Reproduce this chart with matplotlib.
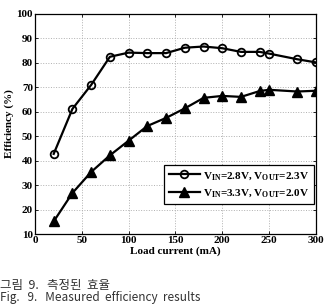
import matplotlib
matplotlib.use("Agg")
import matplotlib.pyplot as plt

load_ma = [20, 40, 60, 80, 100, 120, 140, 160, 180, 200, 220, 240, 250, 280, 300]
eff_28_23 = [42.8, 61.2, 71.0, 82.5, 84.2, 84.0, 84.0, 86.2, 86.7, 86.0, 84.5, 84.5, 83.8, 81.5, 80.2]
eff_33_20 = [15.2, 26.8, 35.4, 42.2, 48.2, 54.2, 57.5, 61.4, 65.7, 66.5, 66.1, 68.5, 69.0, 68.3, 68.6]
label_a = r'V$_{\mathrm{IN}}$=2.8V, V$_{\mathrm{OUT}}$=2.3V'
label_b = r'V$_{\mathrm{IN}}$=3.3V, V$_{\mathrm{OUT}}$=2.0V'
xticks = [0, 50, 100, 150, 200, 250, 300]
yticks = [10, 20, 30, 40, 50, 60, 70, 80, 90, 100]
caption_kr = "그림  9.   측정된  효율"
caption_en = "Fig.   9.   Measured  efficiency  results"

plt.rcParams['font.family'] = ['Liberation Serif', 'DejaVu Serif']
plt.rcParams['font.weight'] = 'bold'
plt.rcParams['mathtext.fontset'] = 'custom'
plt.rcParams['mathtext.rm'] = 'Liberation Serif:bold'
plt.rcParams['mathtext.it'] = 'Liberation Serif:bold'
plt.rcParams['mathtext.bf'] = 'Liberation Serif:bold'

fig = plt.figure(figsize=(3.27, 3.04), dpi=100)
ax = fig.add_axes([0.107, 0.230, 0.859, 0.724])

ax.plot(load_ma, eff_28_23, color='black', lw=1.6, marker='o', ms=5.5,
        mfc='none', mec='black', mew=1.3, label=label_a)
ax.plot(load_ma, eff_33_20, color='black', lw=1.6, marker='^', ms=6.5,
        mfc='black', mec='black', label=label_b)

ax.set_xlim(0, 300)
ax.set_ylim(10, 100)
ax.set_xticks(xticks)
ax.set_yticks(yticks)
ax.tick_params(direction='in', length=2.5, width=0.6, labelsize=8,
               top=True, right=True, pad=1.5)
for lab in ax.get_xticklabels() + ax.get_yticklabels():
    lab.set_fontweight('bold')
ax.grid(True, linestyle=':', color='#b0b0b0', lw=0.7)
for s in ax.spines.values():
    s.set_linewidth(0.9)

ax.set_xlabel('Load current (mA)', fontsize=8, fontweight='bold', labelpad=1)
ax.set_ylabel('Efficiency (%)', fontsize=8, fontweight='bold', labelpad=2)

leg = ax.legend(loc='lower right', bbox_to_anchor=(0.995, 0.136), fontsize=8,
                frameon=True, fancybox=False, edgecolor='black', framealpha=1,
                handlelength=2.8, handletextpad=0.3, borderpad=0.45,
                labelspacing=0.5, borderaxespad=0)
leg.get_frame().set_linewidth(0.9)

fig.text(0.0, 1 - 285 / 304, caption_kr, fontsize=9, color='#333333',
         family=['Noto Sans CJK KR', 'DejaVu Sans'], fontweight='normal',
         ha='left', va='center')
fig.text(0.0, 0.0, caption_en, fontsize=8.5, color='#333333',
         family=['Noto Sans CJK KR', 'DejaVu Sans'], fontweight='normal',
         style='italic', ha='left', va='bottom')

fig.savefig('out.png', dpi=100)
